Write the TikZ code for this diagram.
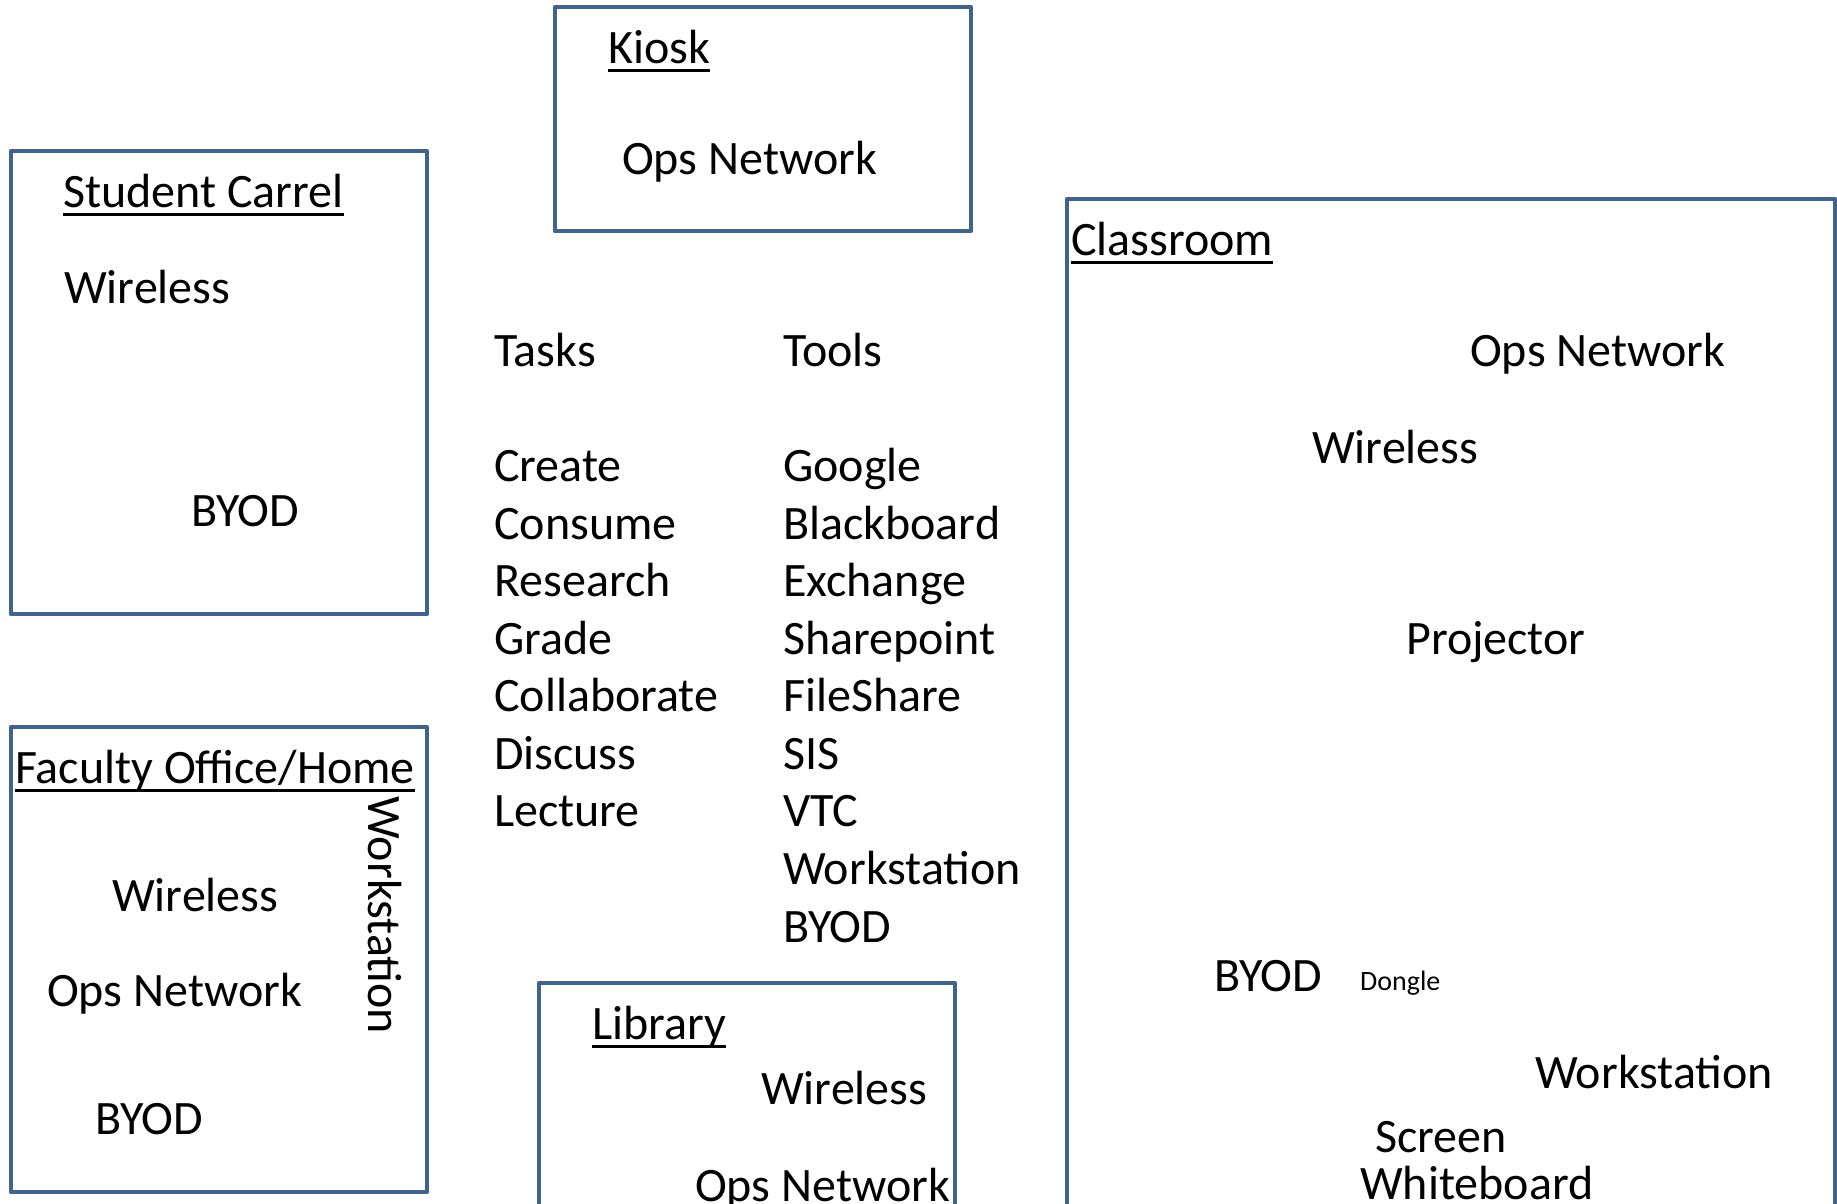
\documentclass[tikz,border=0pt]{standalone}
\usepackage{fontspec}
\setmainfont{Carlito}
\definecolor{boxblue}{RGB}{64,99,145}
\newsavebox\ulbox
\newcommand\ulined[1]{\sbox\ulbox{#1}\rlap{\usebox\ulbox}\rule[-0.175em]{\wd\ulbox}{0.065em}}
\newcommand\bigtxt{\fontsize{48}{57.5}\selectfont}
\newcommand\smalltxt{\fontsize{28}{34}\selectfont}
\begin{document}
\begin{tikzpicture}[x=1pt,y=-1pt,
  room/.style={draw=boxblue,line width=4.5pt,line join=round},
  vlbl/.style={anchor=base west,inner sep=0pt,font=\bigtxt},
  lbl/.style={vlbl,xshift=2pt,yshift=-1.5pt},
  smalllbl/.style={anchor=base west,inner sep=0pt,font=\smalltxt,xshift=2pt,yshift=-1.5pt}]
\path[use as bounding box,fill=white] (0,0) rectangle (1837,1204);

% Kiosk
\draw[room] (555,7) rectangle (971,231);
\node[lbl] (kiosk) at (606,62) {\ulined{Kiosk}};
\node[lbl] (kioskops) at (620,173) {Ops Network};

% Student Carrel
\draw[room] (11,151) rectangle (427,614);
\node[lbl] (carrel) at (61,206) {\ulined{Student Carrel}};
\node[lbl] (carrelwl) at (62,302) {Wireless};
\node[lbl] (carrelbyod) at (189,525) {BYOD};

% Faculty Office/Home
\draw[room] (11,727) rectangle (427,1192);
\node[lbl] (faculty) at (13,782) {\ulined{Faculty Office/Home}};
\node[vlbl,rotate=-90] (facws) at (368,796) {Workstation};
\node[lbl] (facwl) at (110,910) {Wireless};
\node[lbl] (facops) at (45,1005) {Ops Network};
\node[lbl] (facbyod) at (93,1133) {BYOD};

% Tasks and Tools
\node[lbl] (tasks) at (492,365) {Tasks};
\node[lbl] (tools) at (781,365) {Tools};
\node[lbl] (t1) at (492,480.1) {Create};
\node[lbl] (t2) at (492,537.65) {Consume};
\node[lbl] (t3) at (492,595.2) {Research};
\node[lbl] (t4) at (492,652.75) {Grade};
\node[lbl] (t5) at (492,710.3) {Collaborate};
\node[lbl] (t6) at (492,767.85) {Discuss};
\node[lbl] (t7) at (492,825.4) {Lecture};
\node[lbl] (o1) at (781,480.1) {Google};
\node[lbl] (o2) at (781,537.65) {Blackboard};
\node[lbl] (o3) at (781,595.2) {Exchange};
\node[lbl] (o4) at (781,652.75) {Sharepoint};
\node[lbl] (o5) at (781,710.3) {FileShare};
\node[lbl] (o6) at (781,767.85) {SIS};
\node[lbl] (o7) at (781,825.4) {VTC};
\node[lbl] (o8) at (781,882.95) {Workstation};
\node[lbl] (o9) at (781,940.5) {BYOD};

% Library
\draw[room] (539,1215) -- (539,983) -- (955,983) -- (955,1215);
\node[lbl] (library) at (590,1038) {\ulined{Library}};
\node[lbl] (libwl) at (759,1103) {Wireless};
\node[lbl] (libops) at (693,1200) {Ops Network};

% Classroom
\draw[room] (1067,1215) -- (1067,199) -- (1835,199) -- (1835,1215);
\node[lbl] (classroom) at (1069,254) {\ulined{Classroom}};
\node[lbl] (clops) at (1468,365) {Ops Network};
\node[lbl] (clwl) at (1310,462) {Wireless};
\node[lbl] (clproj) at (1404,653) {Projector};
\node[lbl] (clbyod) at (1212,990) {BYOD};
\node[smalllbl] (cldongle) at (1358,989) {Dongle};
\node[lbl] (clws) at (1533,1087) {Workstation};
\node[lbl] (clscreen) at (1373,1151) {Screen};
\node[lbl] (clwb) at (1358,1198) {Whiteboard};
\end{tikzpicture}
\end{document}
